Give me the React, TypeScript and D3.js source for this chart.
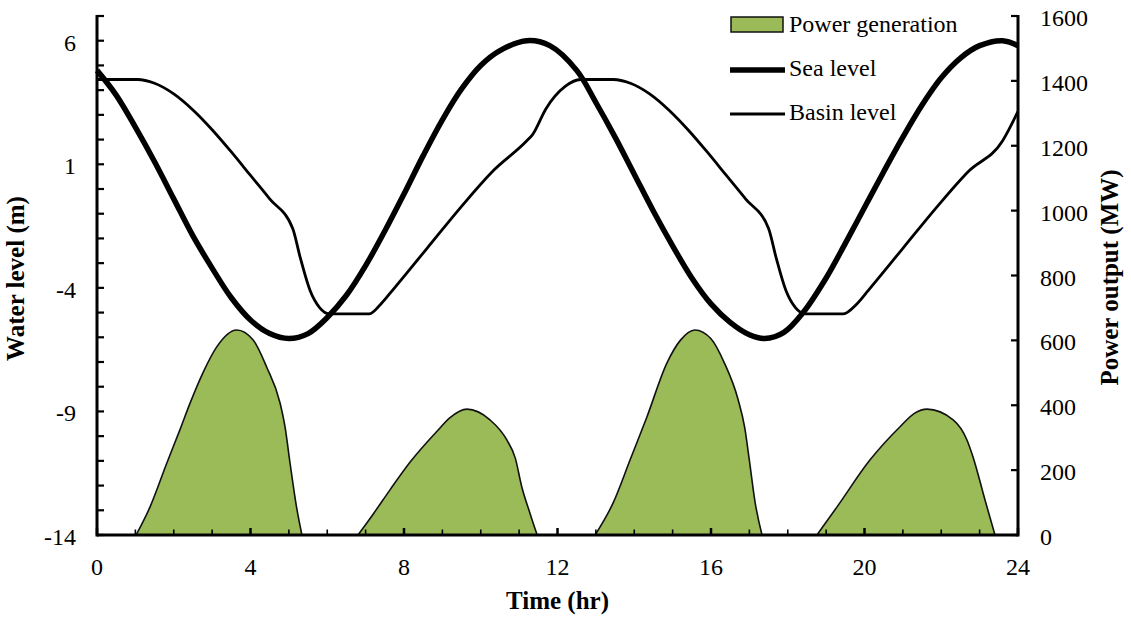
import React from "react";
import * as d3 from "d3";

// Time (hr) vs water level (m) and generated power (MW) for a tidal lagoon
const seaLevel: [number, number][] = [
  [0, 4.8], [0.5, 3.8], [1, 2.5], [1.5, 1.1], [2, -0.4], [2.5, -1.9], [3, -3.2],
  [3.5, -4.4], [4, -5.3], [4.5, -5.85], [5, -6.05], [5.5, -5.85], [6, -5.2],
  [6.5, -4.3], [7, -3.1], [7.5, -1.7], [8, -0.2], [8.5, 1.35], [9, 2.8], [9.5, 4.05],
  [10, 5.0], [10.5, 5.6], [11.2, 6.0], [11.8, 5.8], [12.5, 4.8], [13, 3.5],
  [13.5, 2.1], [14, 0.6], [14.5, -0.9], [15, -2.3], [15.5, -3.6], [16, -4.65],
  [16.5, -5.4], [17, -5.9], [17.4, -6.05], [17.9, -5.8], [18.4, -5.0], [19, -3.6],
  [19.5, -2.2], [20, -0.75], [20.5, 0.7], [21, 2.1], [21.5, 3.4], [22, 4.5],
  [22.5, 5.3], [23, 5.8], [23.6, 6.0], [24, 5.8],
];

const basinLevel: [number, number][] = [
  [0, 4.43], [1.05, 4.43], [1.5, 4.28], [2, 3.85], [2.5, 3.2], [3, 2.4], [3.5, 1.5],
  [4, 0.55], [4.5, -0.4], [5.1, -1.6], [5.3, -2.8], [5.55, -4.1], [5.8, -4.8],
  [6.05, -5.05], [7.1, -5.05], [7.4, -4.65], [7.7, -4.1], [8.6, -2.4], [9.5, -0.7],
  [10.3, 0.7], [11.2, 1.95], [11.35, 2.2], [11.7, 3.25], [12.2, 4.15], [12.6, 4.43],
  [13.45, 4.43], [13.9, 4.28], [14.4, 3.85], [14.9, 3.2], [15.4, 2.4], [15.9, 1.5],
  [16.4, 0.55], [16.9, -0.4], [17.5, -1.6], [17.7, -2.8], [17.95, -4.1], [18.2, -4.8],
  [18.45, -5.05], [19.45, -5.05], [19.8, -4.65], [20.1, -4.1], [21, -2.4], [21.9, -0.7],
  [22.7, 0.7], [23.6, 1.95], [24, 3.14],
];

// Power output during each generating phase
const powerPhase1: [number, number][] = [
  [1.02, 0], [1.38, 86], [1.82, 222], [2.16, 324], [2.42, 405], [2.76, 500], [3.12, 580],
  [3.64, 632], [4.07, 601], [4.42, 518], [4.77, 407], [4.9, 333], [5.03, 222], [5.2, 86],
  [5.34, 0],
];
const powerPhase2: [number, number][] = [
  [6.8, 0], [7.2, 65], [7.64, 140], [8.16, 225], [8.86, 320], [9.2, 362], [9.64, 388],
  [10.24, 355], [10.68, 293], [10.9, 237], [11.07, 148], [11.28, 68], [11.47, 0],
];
const powerPhase3: [number, number][] = [
  [12.98, 0], [13.45, 99], [13.89, 231], [14.33, 364], [14.85, 530], [15.2, 600],
  [15.58, 632], [16.0, 605], [16.35, 530], [16.7, 420], [16.88, 330], [17.0, 230],
  [17.15, 100], [17.33, 0],
];
const powerPhase4: [number, number][] = [
  [18.76, 0], [19.28, 86], [20.14, 231], [20.92, 333], [21.3, 375], [21.63, 388],
  [22.31, 355], [22.67, 293], [22.83, 240], [23.14, 108], [23.4, 0],
];
const powerPhases = [powerPhase1, powerPhase2, powerPhase3, powerPhase4];

const xTickLabels = [0, 4, 8, 12, 16, 20, 24];
const levelTickLabels = [-14, -9, -4, 1, 6];
const powerTickLabels = [0, 200, 400, 600, 800, 1000, 1200, 1400, 1600];

const legendItems = ["Power generation", "Sea level", "Basin level"];

const FONT = "'Liberation Serif', 'Times New Roman', serif";
const GREEN = "#9bbb59";

export default function App() {
  const W = 1131;
  const H = 622;
  const left = 97;
  const right = 1018;
  const top = 16;
  const bottom = 535;

  const x = d3.scaleLinear().domain([0, 24]).range([left, right]);
  const yLevel = d3.scaleLinear().domain([-14, 7]).range([bottom, top]);
  const yPower = d3.scaleLinear().domain([0, 1600]).range([bottom, top]);

  const seaLine = d3
    .line<[number, number]>()
    .x((d) => x(d[0]))
    .y((d) => yLevel(d[1]))
    .curve(d3.curveCatmullRom.alpha(0.5));

  const basinLine = d3
    .line<[number, number]>()
    .x((d) => x(d[0]))
    .y((d) => yLevel(d[1]))
    .curve(d3.curveMonotoneX);

  const powerArea = d3
    .area<[number, number]>()
    .x((d) => x(d[0]))
    .y0(yPower(0))
    .y1((d) => yPower(d[1]))
    .curve(d3.curveMonotoneX);

  const hourTicks = d3.range(0, 25);
  const levelTicks = d3.range(-14, 8);

  return (
    <svg
      width={W}
      height={H}
      style={{ position: "absolute", left: 0, top: 0, background: "#fff" }}
      fontFamily={FONT}
    >
      {/* generation phases */}
      {powerPhases.map((p, i) => (
        <path key={i} d={powerArea(p) ?? ""} fill={GREEN} stroke="#111" strokeWidth={1.6} />
      ))}

      {/* water levels */}
      <path d={basinLine(basinLevel) ?? ""} fill="none" stroke="#000" strokeWidth={2.8} strokeLinejoin="round" />
      <path d={seaLine(seaLevel) ?? ""} fill="none" stroke="#000" strokeWidth={5.5} strokeLinejoin="round" />

      {/* x axis */}
      <line x1={left} x2={right} y1={bottom} y2={bottom} stroke="#000" strokeWidth={3} />
      {hourTicks.map((h) => (
        <line
          key={h}
          x1={x(h)}
          x2={x(h)}
          y1={bottom}
          y2={bottom - (h % 4 === 0 ? 7 : 5.5)}
          stroke="#000"
          strokeWidth={h % 4 === 0 ? 2.5 : 1.6}
        />
      ))}
      {xTickLabels.map((h) => (
        <text key={h} x={x(h)} y={575} textAnchor="middle" fontSize={24} fill="#000">
          {h}
        </text>
      ))}
      <text x={(left + right) / 2} y={609} textAnchor="middle" fontSize={25} fontWeight="bold">
        Time (hr)
      </text>

      {/* left axis: water level */}
      <line x1={left} x2={left} y1={top - 1} y2={bottom + 1.5} stroke="#000" strokeWidth={3} />
      {levelTicks.map((v) => (
        <line key={v} x1={left} x2={left + 7} y1={yLevel(v)} y2={yLevel(v)} stroke="#000" strokeWidth={2.2} />
      ))}
      {levelTickLabels.map((v) => (
        <text key={v} x={76} y={yLevel(v) + 10} textAnchor="end" fontSize={24}>
          {v}
        </text>
      ))}
      <text
        transform={`translate(24, ${(top + bottom) / 2 + 3}) rotate(-90)`}
        textAnchor="middle"
        fontSize={25}
        fontWeight="bold"
      >
        Water level (m)
      </text>

      {/* right axis: power output */}
      <line x1={right} x2={right} y1={top - 1} y2={bottom + 1.5} stroke="#000" strokeWidth={3} />
      {powerTickLabels.map((v) => (
        <line key={v} x1={right} x2={right - 7} y1={yPower(v)} y2={yPower(v)} stroke="#000" strokeWidth={2.2} />
      ))}
      {powerTickLabels.map((v) => (
        <text key={v} x={1040} y={yPower(v) + 10} textAnchor="start" fontSize={24}>
          {v}
        </text>
      ))}
      <text
        transform={`translate(1118, ${(top + bottom) / 2 + 2}) rotate(-90)`}
        textAnchor="middle"
        fontSize={25}
        fontWeight="bold"
      >
        Power output (MW)
      </text>

      {/* legend */}
      <rect x={731} y={17} width={52} height={15} fill={GREEN} stroke="#111" strokeWidth={1.5} />
      <line x1={730} x2={785} y1={70} y2={70} stroke="#000" strokeWidth={5.5} />
      <line x1={730} x2={785} y1={114} y2={114} stroke="#000" strokeWidth={2.8} />
      {legendItems.map((label, i) => (
        <text key={label} x={789} y={32 + i * 44} fontSize={24}>
          {label}
        </text>
      ))}
    </svg>
  );
}
